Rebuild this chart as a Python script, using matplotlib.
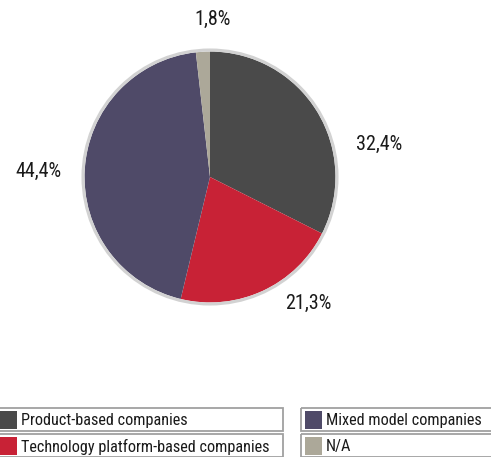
import matplotlib
matplotlib.use("Agg")
import matplotlib.pyplot as plt
from matplotlib.patches import Rectangle
import numpy as np

categories = ["Product-based companies", "Technology platform-based companies",
              "Mixed model companies", "N/A"]
shares = [32.4, 21.3, 44.4, 1.8]
value_labels = ["32,4%", "21,3%", "44,4%", "1,8%"]
colors = ["#4a4a4a", "#c82236", "#4f4a68", "#aca899"]

W, H = 491, 457
fig = plt.figure(figsize=(W / 100, H / 100), dpi=100)
ax = fig.add_axes([0, 0, 1, 1])
ax.set_xlim(0, W)
ax.set_ylim(H, 0)
ax.axis("off")

# pie geometry in pixels
cx, cy, r = 210, 177, 125.5
pad = 5
pie_ax = fig.add_axes([(cx - r - pad) / W, 1 - (cy + r + pad) / H,
                       2 * (r + pad) / W, 2 * (r + pad) / H])
lim = (r + pad)
wedges, _ = pie_ax.pie(shares, colors=colors, startangle=90, counterclock=False,
                       radius=r, wedgeprops=dict(linewidth=0))
pie_ax.add_patch(plt.Circle((0, 0), r + 1.5, fill=False,
                            edgecolor="#d2d2d2", linewidth=2.2))
pie_ax.set_xlim(-lim, lim)
pie_ax.set_ylim(-lim, lim)
pie_ax.set_aspect("equal")
pie_ax.axis("off")

font = dict(family=["Roboto Condensed", "DejaVu Sans"])

# label placement: (angle in degrees, distance in px from centre)
label_pos = [(11, 172), (-52, 160), (178, 172), (89, 158)]
for (ang, dist), txt in zip(label_pos, value_labels):
    x = cx + dist * np.cos(np.radians(ang))
    y = cy - dist * np.sin(np.radians(ang))
    ax.text(x, y, txt, ha="center", va="center", fontsize=14.5, color="#1a1a1a", **font)

# legend: one bordered box per entry
boxes = [(-4, 408, 287), (-4, 434, 287), (301, 408, 192), (301, 434, 192)]
for (bx, by, bw), lab, col in zip(boxes, categories, colors):
    ax.add_patch(Rectangle((bx, by), bw, 23, fill=False, edgecolor="#a0a0a0", linewidth=1.3))
    ax.add_patch(Rectangle((bx + 4, by + 3), 17, 18, facecolor=col, edgecolor="none"))
    ax.text(bx + 25, by + 12.5, lab, ha="left", va="center", fontsize=11.7, color="#1a1a1a", **font)

fig.savefig("out.png", dpi=100)
